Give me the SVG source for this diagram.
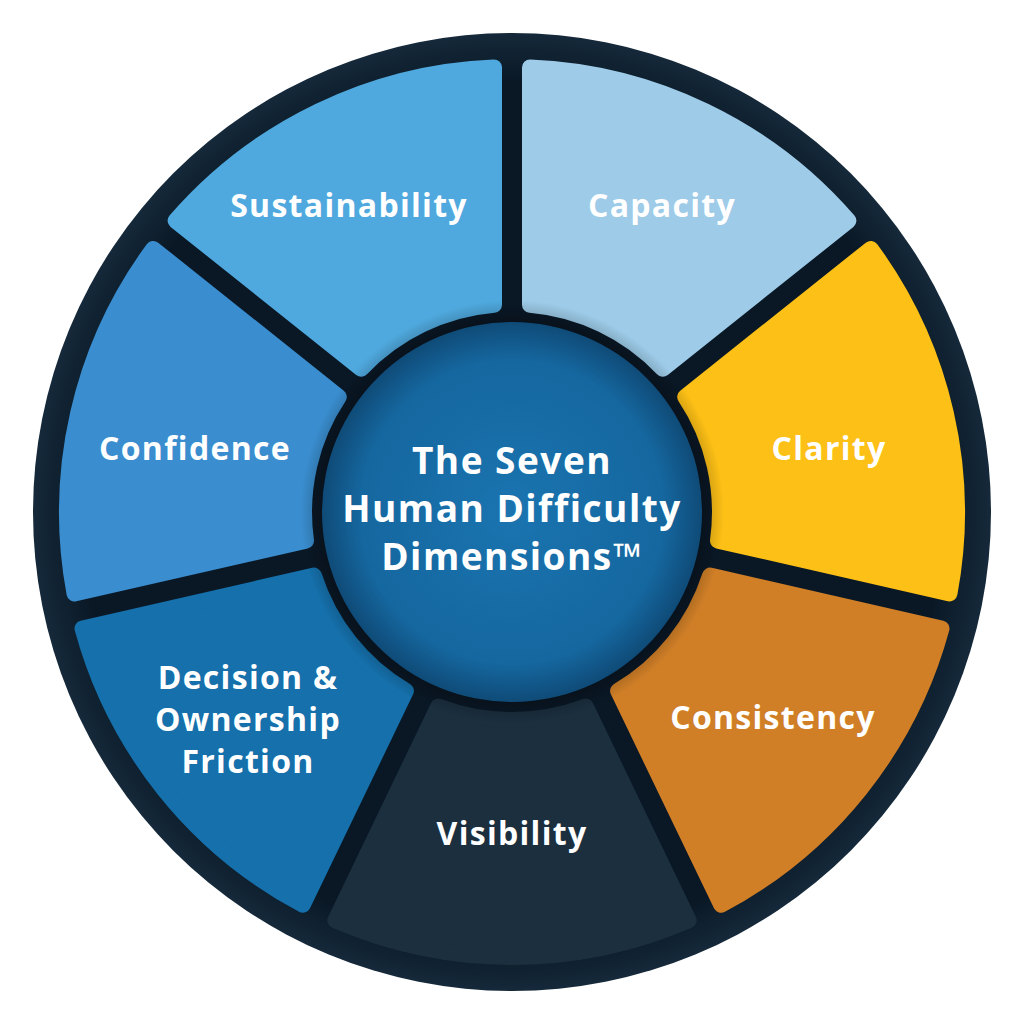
<svg xmlns="http://www.w3.org/2000/svg" width="1024" height="1024" viewBox="0 0 1024 1024">
<defs>
<radialGradient id="ring" cx="50%" cy="50%" r="50%"><stop offset="0.9" stop-color="#0a1826"/><stop offset="1" stop-color="#15293a"/></radialGradient>
<radialGradient id="hub" cx="50%" cy="50%" r="50%"><stop offset="0" stop-color="#1a74b0"/><stop offset="0.8" stop-color="#15679f"/><stop offset="1" stop-color="#0f4b78"/></radialGradient>
<radialGradient id="shadow" cx="50%" cy="50%" r="50%"><stop offset="0.75" stop-color="#000" stop-opacity="0.6"/><stop offset="1" stop-color="#000" stop-opacity="0"/></radialGradient>
<style>
.seg{stroke-width:16;stroke-linejoin:round}
.lbl{font-family:"Open Sans","Liberation Sans",sans-serif;font-weight:700;font-size:32px;fill:#fff;text-anchor:middle;letter-spacing:1.3px}
.ttl{font-family:"Open Sans","Liberation Sans",sans-serif;font-weight:700;font-size:37px;fill:#fff;text-anchor:middle;letter-spacing:1.5px}
</style>
</defs>
<rect width="1024" height="1024" fill="#fff"/>
<circle cx="512" cy="512" r="479" fill="url(#ring)"/>
<g id="capacity"><path class="seg" fill="#9dcbe8" stroke="#9dcbe8" d="M530,67.4 A445,445 0 0 1 848.4,220.7 L662.8,368.7 A208,208 0 0 0 530,304.8 Z"/><text class="lbl" x="662" y="217">Capacity</text></g>
<g id="clarity"><path class="seg" fill="#fdc016" stroke="#fdc016" d="M870.8,248.9 A445,445 0 0 1 949.5,593.4 L718,540.6 A208,208 0 0 0 685.2,396.9 Z"/><text class="lbl" x="829" y="460">Clarity</text></g>
<g id="consistency"><path class="seg" fill="#d07f27" stroke="#d07f27" d="M941.5,628.5 A445,445 0 0 1 721.2,904.8 L618.1,690.9 A208,208 0 0 0 710,575.6 Z"/><text class="lbl" x="773" y="729">Consistency</text></g>
<g id="visibility"><path class="seg" fill="#1b2f3f" stroke="#1b2f3f" d="M688.7,920.4 A445,445 0 0 1 335.3,920.4 L438.3,706.5 A208,208 0 0 0 585.7,706.5 Z"/><text class="lbl" x="512" y="845">Visibility</text></g>
<g id="decision"><path class="seg" fill="#1570ab" stroke="#1570ab" d="M302.8,904.8 A445,445 0 0 1 82.5,628.5 L314,575.6 A208,208 0 0 0 405.9,690.9 Z"/><text class="lbl" x="248" y="689">Decision &amp;</text><text class="lbl" x="248" y="731">Ownership</text><text class="lbl" x="248" y="773">Friction</text></g>
<g id="confidence"><path class="seg" fill="#3a8ed0" stroke="#3a8ed0" d="M74.5,593.4 A445,445 0 0 1 153.2,248.9 L338.8,396.9 A208,208 0 0 0 306,540.6 Z"/><text class="lbl" x="195" y="460">Confidence</text></g>
<g id="sustainability"><path class="seg" fill="#4fa9de" stroke="#4fa9de" d="M175.6,220.7 A445,445 0 0 1 494,67.4 L494,304.8 A208,208 0 0 0 361.2,368.7 Z"/><text class="lbl" x="349" y="217">Sustainability</text></g>
<g id="hub-node"><circle cx="512" cy="512" r="212" fill="url(#shadow)"/><circle cx="512" cy="512" r="190" fill="url(#hub)"/>
<text class="ttl" x="512" y="474">The Seven</text><text class="ttl" x="512" y="522">Human Difficulty</text><text class="ttl" x="512" y="570">Dimensions™</text></g>
<g id="connectors"/>
</svg>
